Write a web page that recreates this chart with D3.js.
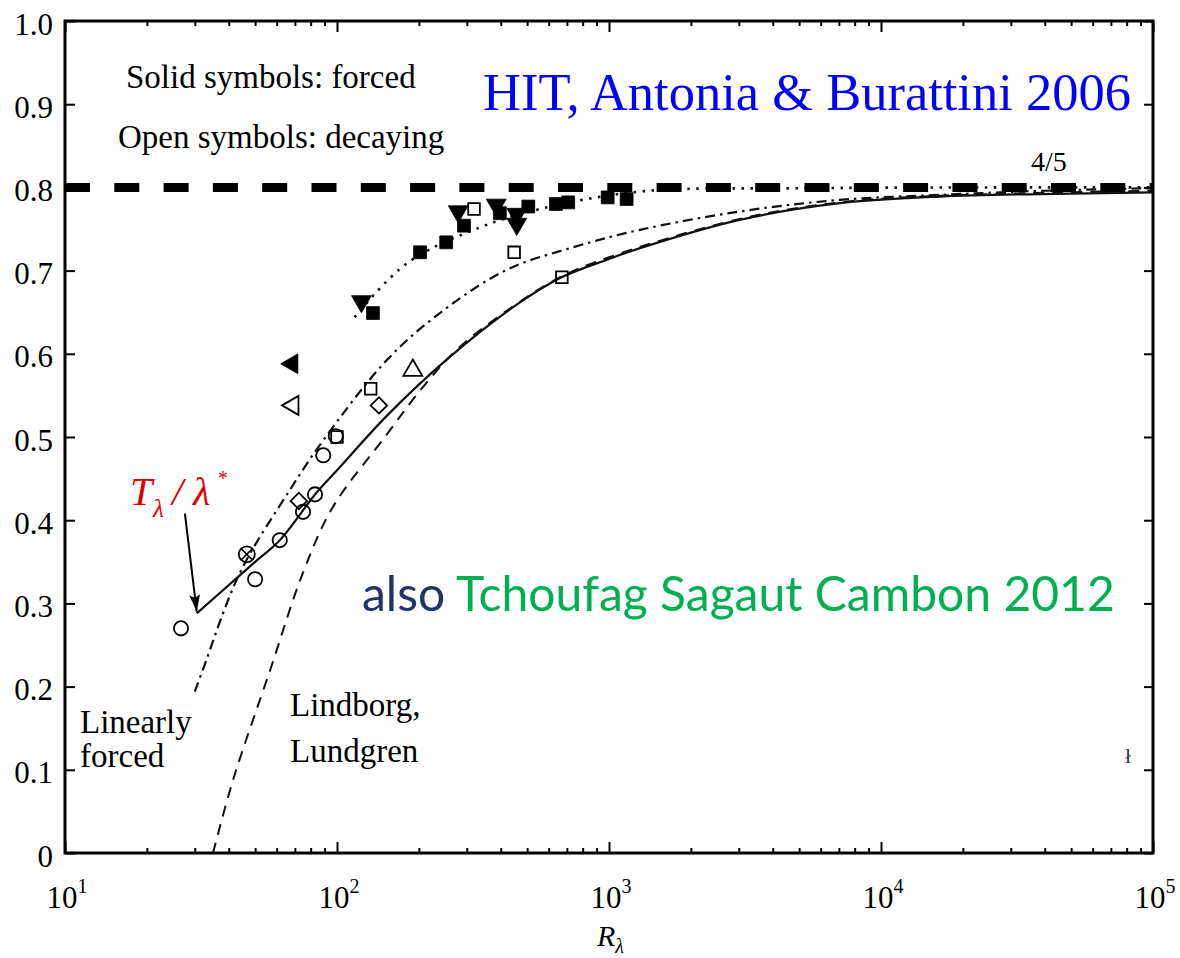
<!DOCTYPE html>
<html>
<head>
<meta charset="utf-8">
<script src="https://cdn.jsdelivr.net/npm/d3@7/dist/d3.min.js"></script>
<style>
  html, body { margin: 0; padding: 0; background: #fff; }
  svg { display: block; }
</style>
</head>
<body>
<svg id="chart" width="1180" height="958"></svg>
<script>
// ---- Data: third-order structure function ratio vs R_lambda ----
const xMajorTicks = [10, 100, 1000, 10000, 100000];
const xTickExponents = ["1", "2", "3", "4", "5"];
const yTicks = [0, 0.1, 0.2, 0.3, 0.4, 0.5, 0.6, 0.7, 0.8, 0.9, 1.0];

// model curves [R_lambda, value]
const curveLinearForced = [[30.5,0.288],[40,0.322],[50,0.350],[61.6,0.376],[84,0.433],[100,0.460],[153,0.526],[253,0.593],[444,0.656],[661,0.691],[1000,0.714],[1300,0.727],[3020,0.761],[7060,0.781],[16500,0.789],[38400,0.792],[100000,0.794]];
const curveLindborg = [[35,0.0],[41.5,0.088],[56.8,0.220],[75,0.337],[96.6,0.416],[150,0.500],[207,0.560],[280,0.607],[444,0.657],[661,0.692],[1000,0.716],[3020,0.762],[7060,0.782],[16500,0.790],[100000,0.796]];
const curveDashDot = [[30,0.194],[32.1,0.220],[44,0.337],[67,0.436],[89,0.496],[153,0.593],[239,0.649],[421,0.701],[738,0.728],[1300,0.749],[3020,0.771],[7060,0.785],[16500,0.791],[40000,0.796],[100000,0.799]];
const curveDotted = [[116,0.644],[181,0.709],[336,0.752],[557,0.774],[1300,0.795],[5000,0.799],[100000,0.800]];
const asymptote = 0.8;

// measurements
const openCircles = [[26.7,0.270],[50,0.329],[61.6,0.376],[75,0.410],[83,0.431],[89,0.478],[99,0.501]];
const crossedCircles = [[46.6,0.359]];
const openDiamonds = [[72.4,0.423],[142.6,0.538]];
const openUpTriangles = [[190,0.580]];
const openLeftTriangles = [[68.9,0.538]];
const solidLeftTriangles = [[68.4,0.588]];
const openSquares = [[100,0.500],[133,0.558],[319,0.774],[448,0.722],[671,0.692]];
const solidSquares = [[135.6,0.649],[202,0.722],[252,0.734],[293,0.754],[397,0.769],[505,0.777],[638,0.780],[708,0.782],[989,0.788],[1161,0.786]];
const solidDownTriangles = [[123,0.663],[279,0.771],[385,0.779],[458,0.768],[458,0.756]];

// annotation arrow [R_lambda, value]: tail -> tip
const arrowPts = [[27.6,0.408],[30.5,0.290]];

// ---- Scales ----
const svg = d3.select("#chart");
const plotLeft = 65, plotRight = 1153, plotTop = 21, plotBottom = 853;
const x = d3.scaleLog().domain([10, 100000]).range([plotLeft, plotRight]);
const y = d3.scaleLinear().domain([0, 1]).range([plotBottom, plotTop]);
const serif = "'Liberation Serif', 'Times New Roman', serif";
const ink = "#111";

const minorTicks = [];
for (let k = 1; k < 5; k++) for (let m = 2; m <= 9; m++) minorTicks.push(m * Math.pow(10, k));

// ---- Curves ----
const line = d3.line().x(d => x(d[0])).y(d => y(d[1])).curve(d3.curveCatmullRom.alpha(0.5));
const plot = svg.append("g");

plot.append("path").datum(curveLindborg).attr("d", line)
  .attr("fill", "none").attr("stroke", ink).attr("stroke-width", 2).attr("stroke-dasharray", "11 8");
plot.append("path").datum(curveDashDot).attr("d", line)
  .attr("fill", "none").attr("stroke", ink).attr("stroke-width", 2.2).attr("stroke-dasharray", "10 5 2.5 5");
plot.append("path").datum(curveLinearForced).attr("d", line)
  .attr("fill", "none").attr("stroke", ink).attr("stroke-width", 2.2);
plot.append("path").datum(curveDotted).attr("d", line)
  .attr("fill", "none").attr("stroke", ink).attr("stroke-width", 2.6).attr("stroke-dasharray", "2.5 6.5");

// 4/5 asymptote
plot.append("line")
  .attr("x1", x(10)).attr("x2", x(100000))
  .attr("y1", y(asymptote)).attr("y2", y(asymptote))
  .attr("stroke", "#000").attr("stroke-width", 9).attr("stroke-dasharray", "25 24.3");

// ---- Markers ----
function drawSymbols(data, type, size, rotate, filled) {
  plot.append("g").selectAll("path").data(data).join("path")
    .attr("d", d3.symbol().type(type).size(size))
    .attr("transform", d => `translate(${x(d[0])},${y(d[1])}) rotate(${rotate})`)
    .attr("fill", filled ? "#000" : "none")
    .attr("stroke", "#000").attr("stroke-width", filled ? 0.8 : 1.8);
}
drawSymbols(openCircles, d3.symbolCircle, 160, 0, false);
drawSymbols(openDiamonds, d3.symbolSquare, 135, 45, false);
drawSymbols(openUpTriangles, d3.symbolTriangle, 155, 0, false);
drawSymbols(openLeftTriangles, d3.symbolTriangle, 155, -90, false);
drawSymbols(solidLeftTriangles, d3.symbolTriangle, 170, -90, true);
drawSymbols(openSquares, d3.symbolSquare, 135, 0, false);
drawSymbols(solidSquares, d3.symbolSquare, 165, 0, true);
drawSymbols(solidDownTriangles, d3.symbolTriangle, 170, 180, true);

// crossed circle
const cc = plot.append("g").selectAll("g").data(crossedCircles).join("g")
  .attr("transform", d => `translate(${x(d[0])},${y(d[1])})`);
cc.append("circle").attr("r", 8).attr("fill", "none").attr("stroke", "#000").attr("stroke-width", 1.8);
cc.append("path").attr("d", "M-5.7,-5.7L5.7,5.7M-5.7,5.7L5.7,-5.7").attr("stroke", "#000").attr("stroke-width", 1.6);

// ---- Axes ----
function styleAxis(g) {
  g.select(".domain").remove();
  g.selectAll(".tick line").attr("stroke", "#000").attr("stroke-width", 2);
}
svg.append("g").attr("transform", `translate(0,${plotBottom})`)
  .call(d3.axisBottom(x).tickValues(minorTicks).tickSize(-5).tickFormat("")).call(styleAxis);
svg.append("g").attr("transform", `translate(0,${plotBottom})`)
  .call(d3.axisBottom(x).tickValues(xMajorTicks).tickSize(-11).tickFormat("")).call(styleAxis);
svg.append("g").attr("transform", `translate(0,${plotTop})`)
  .call(d3.axisTop(x).tickValues(minorTicks).tickSize(-5).tickFormat("")).call(styleAxis);
svg.append("g").attr("transform", `translate(0,${plotTop})`)
  .call(d3.axisTop(x).tickValues(xMajorTicks).tickSize(-11).tickFormat("")).call(styleAxis);
svg.append("g").attr("transform", `translate(${plotRight},0)`)
  .call(d3.axisRight(y).tickValues(yTicks).tickSize(-9).tickFormat("")).call(styleAxis);

const yAxis = svg.append("g").attr("transform", `translate(${plotLeft},0)`)
  .attr("font-family", serif)
  .call(d3.axisLeft(y).tickValues(yTicks).tickSize(-10).tickPadding(12)
    .tickFormat(d => d === 0 ? "0" : d.toFixed(1)))
  .call(styleAxis);
yAxis.attr("font-family", serif).attr("font-size", 31);
yAxis.selectAll("text").style("font-family", serif).attr("font-size", 31)
  .attr("fill", "#000").attr("dy", "0.42em");

// frame
svg.append("rect").attr("x", plotLeft).attr("y", plotTop)
  .attr("width", plotRight - plotLeft).attr("height", plotBottom - plotTop)
  .attr("fill", "none").attr("stroke", "#000").attr("stroke-width", 3);

// x tick labels 10^n
const xl = svg.append("g").selectAll("text").data(xMajorTicks).join("text")
  .attr("x", d => x(d) + 2).attr("y", 908)
  .attr("text-anchor", "middle").style("font-family", serif).attr("font-size", 31).attr("fill", "#000");
xl.append("tspan").text("10");
xl.append("tspan").attr("dy", -15).attr("font-size", 20).text((d, i) => xTickExponents[i]);

// x axis title
const xt = svg.append("text").attr("x", 597).attr("y", 946)
  .style("font-family", serif).attr("font-style", "italic").attr("font-size", 30).attr("fill", "#000");
xt.append("tspan").text("R");
xt.append("tspan").attr("dy", 7).attr("font-size", 20).text("λ");

// ---- Annotations ----
function addText(str, xx, yy, size, color, extra) {
  const t = svg.append("text").attr("x", xx).attr("y", yy)
    .style("font-family", serif).attr("font-size", size).attr("fill", color).text(str);
  if (extra) extra(t);
  return t;
}
addText("Solid symbols: forced", 126, 88, 33, "#000");
addText("Open symbols: decaying", 118, 148, 33, "#000");
addText("HIT, Antonia & Burattini 2006", 483, 110, 52.5, "#0000ff");
addText("4/5", 1031, 171, 28, "#000");
addText("Linearly", 80, 733, 33, "#000");
addText("forced", 80, 767, 33, "#000");
addText("Lindborg,", 290, 716, 33, "#000");
addText("Lundgren", 290, 762, 33, "#000");
addText("ł", 1128, 763, 20, "#223", t => t.attr("text-anchor", "middle"));

// T_lambda / lambda* label
const tl = svg.append("text").attr("y", 505)
  .style("font-family", serif).attr("font-style", "italic").attr("font-size", 40).attr("fill", "#e00000");
tl.append("tspan").attr("x", 130).text("T");
tl.append("tspan").attr("x", 153).attr("dy", 12).attr("font-size", 25).text("λ");
tl.append("tspan").attr("x", 172).attr("dy", -12).text("/");
tl.append("tspan").attr("x", 193).text("λ");
tl.append("tspan").attr("x", 217).attr("dy", -20).attr("font-size", 20).text("*");

// arrow
svg.append("defs").append("marker").attr("id", "head")
  .attr("viewBox", "0 0 16 10").attr("refX", 16).attr("refY", 5)
  .attr("markerUnits", "userSpaceOnUse").attr("markerWidth", 17).attr("markerHeight", 11)
  .attr("orient", "auto")
  .append("path").attr("d", "M0,0L16,5L0,10L3,5Z").attr("fill", "#000");
svg.append("line")
  .attr("x1", x(arrowPts[0][0])).attr("y1", y(arrowPts[0][1]))
  .attr("x2", x(arrowPts[1][0])).attr("y2", y(arrowPts[1][1]))
  .attr("stroke", "#000").attr("stroke-width", 2).attr("marker-end", "url(#head)");

// also Tchoufag Sagaut Cambon 2012
const sans = "Lato, 'Open Sans', sans-serif";
const alsoT = svg.append("text").attr("x", 362).attr("y", 611)
  .style("font-family", sans).attr("font-size", 46);
alsoT.append("tspan").attr("fill", "#1f3468").text("also ");
alsoT.append("tspan").attr("fill", "#00b050").text("Tchoufag Sagaut Cambon 2012");
// fit the line to its span
const targetW = 1115 - 362;
const w = alsoT.node().getComputedTextLength();
alsoT.attr("font-size", 46 * targetW / w);
</script>
</body>
</html>
